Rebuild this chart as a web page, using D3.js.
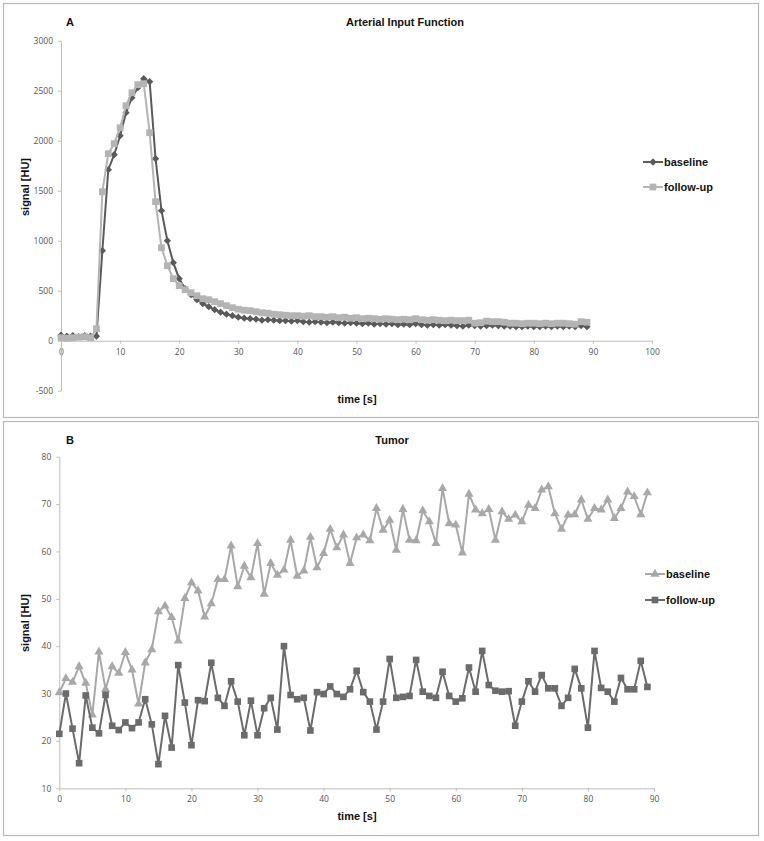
<!DOCTYPE html>
<html>
<head>
<meta charset="utf-8">
<script src="https://cdn.jsdelivr.net/npm/d3@7"></script>
<style>
  body { margin: 0; background: #fff; }
  .tick text { font-family: "Open Sans", "DejaVu Sans", sans-serif; font-size: 8.5px; fill: #555; }
  .axis path, .axis line { stroke: #bdbdbd; }
  .lbl { font-family: "Liberation Sans", Arial, sans-serif; font-weight: bold; font-size: 11px; fill: #111; }
</style>
</head>
<body>
<div id="chart"></div>
<script>
// time points (s), one sample per second
var times = d3.range(0, 90);

// Panel A - arterial input function
var aifBaseline = [55, 45, 50, 40, 50, 45, 45, 900, 1710, 1860, 2050, 2280, 2430, 2530, 2620, 2590, 1820, 1300, 1000, 780,
  620, 520, 460, 410, 370, 340, 310, 285, 265, 250, 235, 225, 220, 215, 205, 210, 205, 200, 200, 195,
  200, 190, 185, 190, 185, 180, 185, 180, 175, 180, 175, 170, 175, 165, 170, 165, 170, 160, 165, 160,
  170, 160, 155, 160, 155, 160, 155, 150, 145, 155, 150, 145, 150, 155, 150, 145, 145, 140, 140, 145,
  140, 140, 145, 140, 145, 140, 145, 140, 150, 140];
var aifFollowup = [30, 25, 30, 35, 40, 30, 120, 1490, 1870, 1970, 2130, 2350, 2480, 2560, 2570, 2080, 1390, 930, 750, 620,
  550, 510, 480, 450, 420, 410, 390, 370, 350, 330, 315, 305, 300, 290, 280, 275, 265, 260, 255, 250,
  250, 245, 250, 240, 240, 235, 240, 230, 235, 225, 230, 220, 225, 220, 215, 220, 215, 210, 215, 210,
  220, 210, 205, 210, 205, 200, 205, 200, 200, 205, 175, 180, 195, 190, 190, 185, 175, 175, 170, 175,
  175, 170, 175, 170, 175, 175, 170, 165, 190, 185];

// Panel B - tumor
var tumBaseline = [30.2, 33.2, 32.4, 35.7, 32.2, 25.5, 38.8, 30.9, 35.7, 34.3, 38.7, 35.0, 27.8, 36.5, 39.3, 47.3, 48.5, 46.1, 41.1, 50.1,
  53.4, 51.7, 46.2, 49.0, 54.1, 54.1, 61.2, 52.6, 56.9, 54.5, 61.7, 51.0, 57.5, 55.0, 56.1, 62.4, 54.8, 55.9, 63.0, 56.6,
  59.6, 64.7, 60.8, 63.5, 57.5, 62.9, 63.5, 62.3, 69.1, 64.5, 66.6, 60.3, 68.9, 62.4, 62.3, 68.6, 66.3, 61.7, 73.3, 65.9,
  65.6, 59.7, 72.1, 68.8, 68.0, 68.9, 62.4, 68.4, 66.8, 67.7, 66.3, 69.8, 69.1, 73.0, 73.7, 68.0, 64.7, 67.7, 67.8, 70.9,
  66.8, 69.1, 68.8, 70.9, 67.0, 69.1, 72.6, 71.6, 67.8, 72.4];
var tumFollowup = [21.5, 30.0, 22.6, 15.3, 29.6, 22.8, 21.6, 29.7, 23.2, 22.3, 23.9, 22.7, 23.9, 28.8, 23.5, 15.1, 25.3, 18.6, 36.0, 28.1,
  19.1, 28.6, 28.4, 36.5, 29.1, 27.4, 32.6, 28.3, 21.2, 28.5, 21.2, 26.9, 29.1, 22.4, 40.0, 29.7, 28.8, 29.1, 22.2, 30.3,
  29.9, 31.5, 29.9, 29.3, 30.9, 34.8, 30.3, 28.3, 22.4, 28.3, 37.3, 29.1, 29.3, 29.5, 37.1, 30.4, 29.5, 29.1, 34.6, 29.5,
  28.3, 29.0, 35.5, 30.4, 39.0, 31.8, 30.6, 30.4, 30.5, 23.2, 28.3, 32.6, 30.4, 33.9, 31.1, 31.1, 27.4, 29.1, 35.2, 31.1,
  22.8, 39.0, 31.2, 30.4, 28.3, 33.3, 30.9, 30.9, 36.9, 31.4];

var aYTicks = [-500, 0, 500, 1000, 1500, 2000, 2500, 3000];
var aXTicks = [0, 10, 20, 30, 40, 50, 60, 70, 80, 90, 100];
var bYTicks = [10, 20, 30, 40, 50, 60, 70, 80];
var bXTicks = [0, 10, 20, 30, 40, 50, 60, 70, 80, 90];
var seriesNames = ["baseline", "follow-up"];

var svg = d3.select("#chart").append("svg").attr("width", 764).attr("height", 841);

var diamond = d3.symbolDiamond2 || d3.symbolDiamond;
// plain numbers, no thousands separator, ascii minus
var plain = function(d) { return String(d); };

//Panel A
panel({
  top: 3.5, letter: "A", title: "Arterial Input Function", titleX: 405,
  xDomain: [0, 100], xRange: [61, 652], yDomain: [-500, 3000], yRange: [390.7, 40.7],
  xTicks: aXTicks, yTicks: aYTicks, xAxisAt: 0, xLabelY: 403, yLabelY: 187,
  series: [
    { name: seriesNames[0], values: aifBaseline, color: "#5a5a5a", symbol: diamond, size: 34 },
    { name: seriesNames[1], values: aifFollowup, color: "#b4b4b4", symbol: d3.symbolSquare, size: 46 }
  ],
  legendX: 643, legendY: [162, 187]
});

//Panel B
panel({
  top: 421.5, letter: "B", title: "Tumor", titleX: 392,
  xDomain: [0, 90], xRange: [59.3, 654], yDomain: [10, 80], yRange: [788.3, 456.7],
  xTicks: bXTicks, yTicks: bYTicks, xAxisAt: 10, xLabelY: 820, yLabelY: 623,
  series: [
    { name: seriesNames[0], values: tumBaseline, color: "#a8a8a8", symbol: d3.symbolTriangle, size: 36 },
    { name: seriesNames[1], values: tumFollowup, color: "#6b6b6b", symbol: d3.symbolSquare, size: 44 }
  ],
  legendX: 645, legendY: [574, 600]
});

function panel(o) {
  // frame
  svg.append("rect")
    .attr("x", 3.5).attr("y", o.top)
    .attr("width", 755).attr("height", 414)
    .attr("fill", "#fff").attr("stroke", "#b8b8b8").attr("stroke-width", 1.2);

  var xScale = d3.scaleLinear().domain(o.xDomain).range(o.xRange);
  var yScale = d3.scaleLinear().domain(o.yDomain).range(o.yRange);

  // axes
  svg.append("g")
    .attr("class", "axis")
    .attr("transform", "translate(0," + yScale(o.xAxisAt) + ")")
    .call(d3.axisBottom(xScale).tickValues(o.xTicks).tickFormat(plain).tickSize(3).tickPadding(5).tickSizeOuter(0));
  svg.append("g")
    .attr("class", "axis")
    .attr("transform", "translate(" + xScale(0) + ",0)")
    .call(d3.axisLeft(yScale).tickValues(o.yTicks).tickFormat(plain).tickSize(3).tickPadding(5).tickSizeOuter(0));

  // labels
  svg.append("text").attr("class", "lbl").attr("x", 66).attr("y", o.top + 22).text(o.letter);
  svg.append("text").attr("class", "lbl").attr("x", o.titleX).attr("y", o.top + 22)
    .attr("text-anchor", "middle").text(o.title);
  svg.append("text").attr("class", "lbl").attr("x", 357).attr("y", o.xLabelY)
    .attr("text-anchor", "middle").text("time [s]");
  svg.append("text").attr("class", "lbl")
    .attr("transform", "translate(29," + o.yLabelY + ") rotate(-90)")
    .attr("text-anchor", "middle").text("signal [HU]");

  var line = d3.line()
    .x(function(d, i) { return xScale(times[i]); })
    .y(function(d) { return yScale(d); });

  o.series.forEach(function(s, k) {
    svg.append("path")
      .datum(s.values)
      .attr("fill", "none")
      .attr("stroke", s.color)
      .attr("stroke-width", 2)
      .attr("d", line);

    svg.append("g").selectAll("path")
      .data(s.values)
      .join("path")
      .attr("transform", function(d, i) { return "translate(" + xScale(times[i]) + "," + yScale(d) + ")"; })
      .attr("d", d3.symbol().type(s.symbol).size(s.size))
      .attr("fill", s.color);

    // legend entry
    var ly = o.legendY[k];
    svg.append("line")
      .attr("x1", o.legendX).attr("x2", o.legendX + 20)
      .attr("y1", ly).attr("y2", ly)
      .attr("stroke", s.color).attr("stroke-width", 2);
    svg.append("path")
      .attr("transform", "translate(" + (o.legendX + 10) + "," + ly + ")")
      .attr("d", d3.symbol().type(s.symbol).size(s.size))
      .attr("fill", s.color);
    svg.append("text").attr("class", "lbl")
      .attr("x", o.legendX + 21).attr("y", ly + 4)
      .text(s.name);
  });
}
</script>
</body>
</html>
